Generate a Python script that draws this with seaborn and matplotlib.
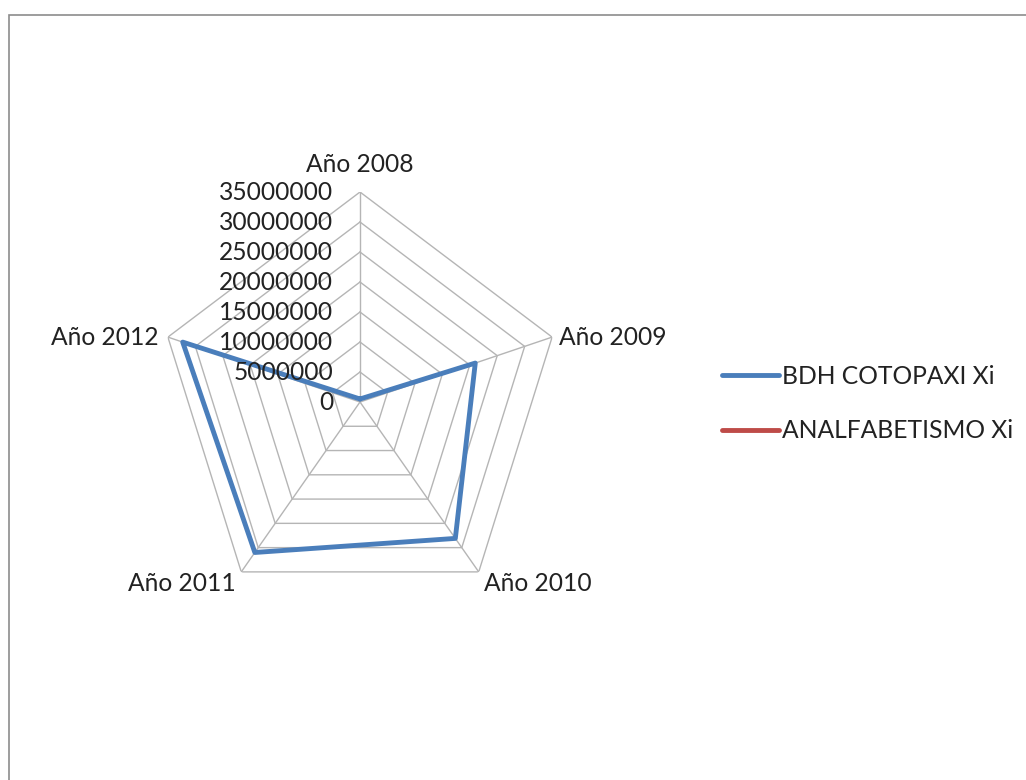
import numpy as np
import pandas as pd
import matplotlib
matplotlib.use("Agg")
import matplotlib.pyplot as plt
import matplotlib.transforms as mtransforms
from matplotlib.patches import Rectangle
import seaborn as sns

categories = ["Año 2008", "Año 2009", "Año 2010", "Año 2011", "Año 2012"]
bdh_cotopaxi = [500000, 21000000, 28100000, 31000000, 32300000]
analfabetismo = [0, 0, 0, 0, 0]
series_names = ["BDH COTOPAXI Xi", "ANALFABETISMO Xi"]
ring_values = [0, 5000000, 10000000, 15000000, 20000000, 25000000, 30000000, 35000000]

sns.set_style("white")
plt.rcParams["font.family"] = ["Lato", "DejaVu Sans"]
text_color = "#222222"
grid_color = "#b5b5b5"
fs = 17.7

n = len(categories)
angles = np.linspace(0, 2 * np.pi, n, endpoint=False)
closed = np.append(angles, 2 * np.pi)

rows = []
for name, vals in zip(series_names, [bdh_cotopaxi, analfabetismo]):
    for th, v in zip(closed, vals + vals[:1]):
        rows.append({"theta": th, "valor": v, "serie": name})
df = pd.DataFrame(rows)

fig = plt.figure(figsize=(10.26, 7.8), dpi=100)
ax = fig.add_axes([158 / 1026, (780 - 612) / 780, 404 / 1026, 420 / 780], projection="polar")
ax.set_aspect("auto")
ax.set_theta_zero_location("N")
ax.set_theta_direction(-1)
ax.set_ylim(0, ring_values[-1])
ax.grid(False)
ax.spines["polar"].set_visible(False)
ax.patch.set_alpha(0)

# pentagon grid
for r in ring_values[1:]:
    ax.plot(closed, [r] * (n + 1), color=grid_color, lw=1, zorder=1)
for th in angles:
    ax.plot([th, th], [0, ring_values[-1]], color=grid_color, lw=1, zorder=1)

sns.lineplot(data=df, x="theta", y="valor", hue="serie", sort=False, estimator=None,
             palette=["#4a7ebb", "#be4b48"], lw=3.5, ax=ax, zorder=3)
ax.set_xlabel("")
ax.set_ylabel("")
ax.set_xticks([])
ax.set_yticks([])
ax.set_ylim(0, ring_values[-1])

# radial tick labels along the 2008 axis
tick_tr = mtransforms.offset_copy(ax.transData, fig=fig, x=-27, y=0, units="dots")
for r in ring_values:
    ax.text(0, r, f"{r}", transform=tick_tr, ha="right", va="center",
            fontsize=fs, color=text_color)

# category labels
label_opts = [
    (0, 16, "center", "bottom"),
    (7, 0, "left", "center"),
    (5, 0, "left", "top"),
    (-6, 0, "right", "top"),
    (-9, 0, "right", "center"),
]
for th, lab, (dx, dy, ha, va) in zip(angles, categories, label_opts):
    tr = mtransforms.offset_copy(ax.transData, fig=fig, x=dx, y=dy, units="dots")
    ax.text(th, ring_values[-1], lab, transform=tr, ha=ha, va=va,
            fontsize=fs, color=text_color)

handles, labels = ax.get_legend_handles_labels()
if ax.legend_:
    ax.legend_.remove()
fig.legend(handles, labels, loc="center left", bbox_to_anchor=(722 / 1026, 1 - 403.5 / 780),
           frameon=False, fontsize=fs, handlelength=2.3, handletextpad=0.15,
           labelspacing=1.3, borderpad=0, borderaxespad=0, labelcolor=text_color)

fig.patches.append(Rectangle((9 / 1026, -0.05), 1.2, 1.05 - 15 / 780,
                             transform=fig.transFigure, fill=False,
                             edgecolor="#8c8c8c", lw=1.2))

fig.savefig("out.png", dpi=100)
